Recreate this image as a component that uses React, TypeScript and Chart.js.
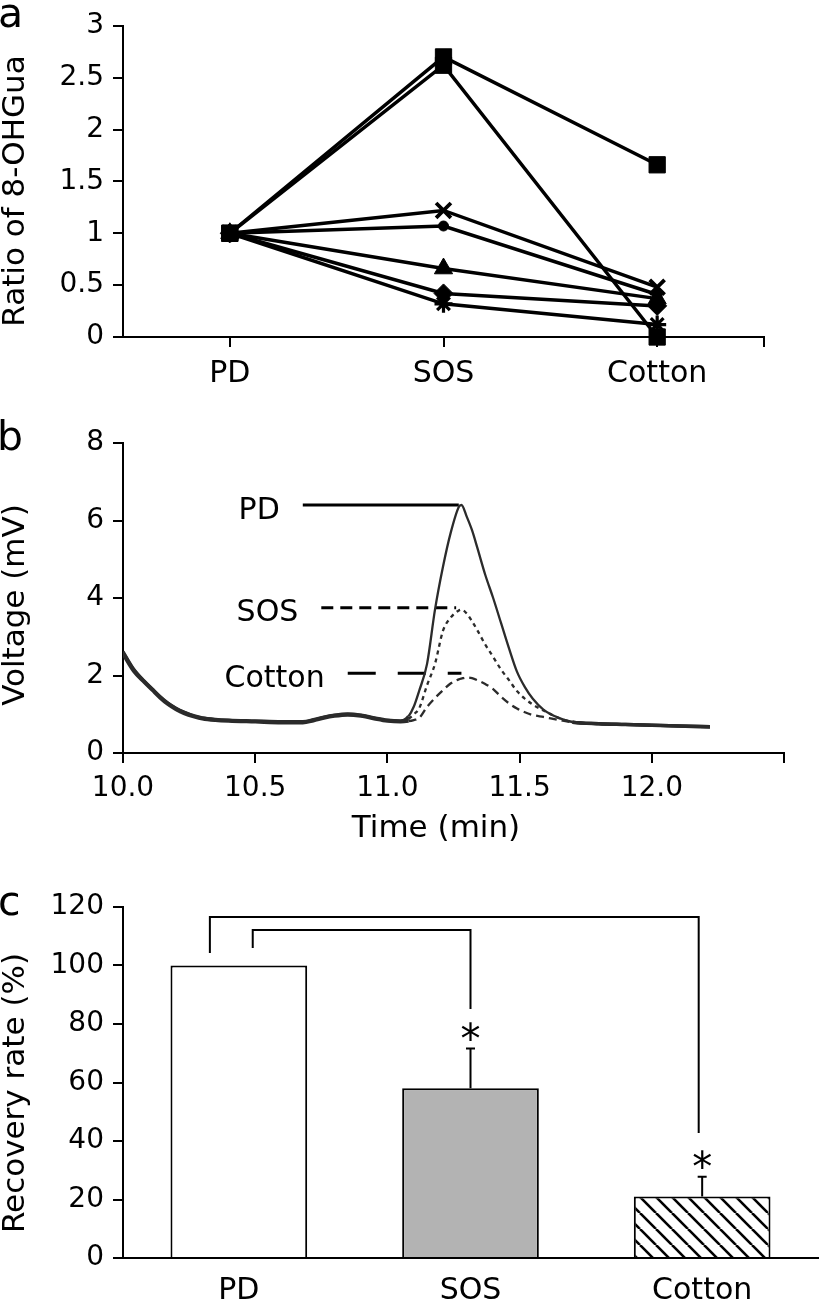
import React, { useEffect, useRef } from 'react';
import { Chart, registerables } from 'chart.js';
Chart.register(...registerables);

const FONT = "'DejaVu Sans', Verdana, sans-serif";

// ---------- Panel a ----------
const catsA = ['PD', 'SOS', 'Cotton'];
const ratioSquare1 = [1, 2.7, 1.66];
const ratioSquare2 = [1, 2.62, 0];
const ratioCross = [1, 1.22, 0.48];
const ratioCircle = [1, 1.07, 0.41];
const ratioTriangle = [1, 0.66, 0.37];
const ratioDiamond = [1, 0.42, 0.3];
const ratioStar = [1, 0.32, 0.12];
const ticksA = [0, 0.5, 1, 1.5, 2, 2.5, 3];

// ---------- Panel b ----------
const timeMin = [
  10.0, 10.04, 10.08, 10.11, 10.14, 10.17, 10.2, 10.23, 10.27, 10.3,
  10.35, 10.4, 10.5, 10.6, 10.68, 10.72, 10.76, 10.8, 10.85, 10.9,
  10.95, 11.0, 11.05, 11.08, 11.1, 11.12, 11.15, 11.18, 11.21, 11.24,
  11.27, 11.28, 11.3, 11.32, 11.34, 11.37, 11.4, 11.43, 11.46, 11.49,
  11.52, 11.55, 11.59, 11.65, 11.7, 11.8, 11.9, 12.0, 12.1, 12.22,
];
const voltPD = [
  2.6, 2.15, 1.85, 1.65, 1.45, 1.28, 1.15, 1.05, 0.95, 0.9,
  0.86, 0.84, 0.82, 0.8, 0.8, 0.85, 0.92, 0.97, 1.0, 0.97,
  0.9, 0.84, 0.82, 0.95, 1.2, 1.6, 2.3, 3.7, 4.8, 5.7,
  6.35, 6.4, 6.1, 5.75, 5.3, 4.6, 4.0, 3.35, 2.7, 2.1,
  1.7, 1.4, 1.12, 0.9, 0.8, 0.76, 0.74, 0.72, 0.7, 0.68,
];
const voltSOS = [
  2.62, 2.17, 1.86, 1.66, 1.46, 1.29, 1.16, 1.06, 0.96, 0.91,
  0.87, 0.85, 0.83, 0.81, 0.81, 0.86, 0.93, 0.98, 1.01, 0.98,
  0.91, 0.85, 0.83, 0.88, 1.0, 1.15, 1.75, 2.3, 3.15, 3.5,
  3.68, 3.7, 3.6, 3.4, 3.17, 2.8, 2.48, 2.15, 1.88, 1.6,
  1.4, 1.25, 1.1, 0.9, 0.8, 0.76, 0.74, 0.72, 0.7, 0.68,
];
const voltCotton = [
  2.55, 2.11, 1.82, 1.62, 1.42, 1.25, 1.12, 1.02, 0.93, 0.88,
  0.84, 0.82, 0.8, 0.78, 0.78, 0.83, 0.9, 0.95, 0.98, 0.95,
  0.88, 0.82, 0.8, 0.82, 0.85, 0.9, 1.19, 1.42, 1.62, 1.8,
  1.9, 1.92, 1.95, 1.93, 1.88, 1.78, 1.65, 1.45, 1.28, 1.15,
  1.05, 0.98, 0.93, 0.85, 0.79, 0.75, 0.73, 0.71, 0.69, 0.67,
];
const peakLabels = ['PD', 'SOS', 'Cotton'];
const peakLevels = [6.4, 3.75, 2.06];
const peakLineStart = [10.68, 10.75, 10.85];
const peakLineEnd = [11.27, 11.26, 11.28];
const timeTicks = [10.0, 10.5, 11.0, 11.5, 12.0, 12.5];
const voltTicks = [0, 2, 4, 6, 8];

// ---------- Panel c ----------
const catsC = ['PD', 'SOS', 'Cotton'];
const recovery = [100, 58, 21];
const recoveryErr = [0, 13.6, 6.8];
const bracketFrom = [-0.125, 0.06];
const bracketTo = [1.985, 1.0];
const bracketTop = [116.6, 112.1];
const bracketLeftEnd = [104.3, 106];
const bracketRightEnd = [42.7, 85.1];
const starIdx = [1, 2];
const starAt = [77.6, 34];
const recTicks = [0, 20, 40, 60, 80, 100, 120];

type TextItem = {
  text: string; x: number; y: number; size: number;
  rotate?: boolean; align?: CanvasTextAlign; baseline?: CanvasTextBaseline;
};

function drawTexts(ctx: CanvasRenderingContext2D, items: TextItem[]) {
  for (const it of items) {
    ctx.save();
    ctx.font = `${it.size}px ${FONT}`;
    ctx.fillStyle = '#000';
    ctx.textAlign = it.align ?? 'center';
    ctx.textBaseline = it.baseline ?? 'middle';
    ctx.translate(it.x, it.y);
    if (it.rotate) ctx.rotate(-Math.PI / 2);
    ctx.fillText(it.text, 0, 0);
    ctx.restore();
  }
}

const axisGrid = { drawOnChartArea: false, drawTicks: true, tickLength: 10, color: '#000', lineWidth: 2 };
const axisBorder = { display: true, color: '#000', width: 2 };
const tickFont = (size: number) => ({ family: FONT, size });

function makeA(canvas: HTMLCanvasElement) {
  const mk = (vals: number[], style: any, radius: number, bw: number) => ({
    data: vals.map((y, i) => ({ x: i, y })),
    borderColor: '#000', backgroundColor: '#000', borderWidth: 3.5,
    pointStyle: style, pointRadius: radius, pointBorderWidth: bw,
    pointBackgroundColor: '#000', pointBorderColor: '#000',
    clip: false as any, tension: 0,
  });
  return new Chart(canvas, {
    type: 'line',
    data: {
      datasets: [
        mk(ratioSquare1, 'rect', 11.5, 1),
        mk(ratioSquare2, 'rect', 11.5, 1),
        mk(ratioCross, 'crossRot', 10.5, 3.8),
        mk(ratioCircle, 'circle', 5, 1),
        mk(ratioTriangle, 'triangle', 10.5, 1),
        mk(ratioDiamond, 'rectRot', 9.5, 1),
        mk(ratioStar, 'star', 9, 3.2),
      ],
    },
    options: {
      animation: false, responsive: false, events: [],
      layout: { padding: { top: 19, right: 58, left: 0, bottom: 0 } },
      plugins: { legend: { display: false }, tooltip: { enabled: false } },
      scales: {
        x: {
          type: 'linear', min: -0.5, max: 2.5,
          afterBuildTicks: (s: any) => { s.ticks = [0, 1, 2, 2.5].map((v) => ({ value: v })); },
          afterFit: (s: any) => { s.height = 53; },
          ticks: {
            callback: (v: any) => (Number.isInteger(v) ? catsA[v] : ''),
            font: tickFont(30), color: '#000', padding: 9, autoSkip: false, maxRotation: 0,
          },
          grid: axisGrid, border: axisBorder,
        },
        y: {
          min: 0, max: 3,
          afterBuildTicks: (s: any) => { s.ticks = ticksA.map((v) => ({ value: v })); },
          afterFit: (s: any) => { s.width = 123; },
          ticks: { callback: (v: any) => String(v), font: tickFont(28), color: '#000', padding: 9 },
          grid: axisGrid, border: axisBorder,
        },
      },
    } as any,
    plugins: [{
      id: 'textsA',
      afterDraw(chart: any) {
        drawTexts(chart.ctx, [
          { text: 'a', x: -2, y: 27, size: 41, align: 'left', baseline: 'alphabetic' },
          { text: 'Ratio of 8-OHGua', x: 16, y: 191, size: 31, rotate: true },
        ]);
      },
    }],
  });
}

function makeB(canvas: HTMLCanvasElement) {
  const inPeak = (c: any) => c.p0.parsed.x >= 11.07 && c.p1.parsed.x <= 11.72;
  const trace = (vals: number[], dash: number[]) => ({
    data: timeMin.map((t, i) => ({ x: t, y: vals[i] })),
    borderColor: '#2b2b2b', borderWidth: 3, pointRadius: 0,
    cubicInterpolationMode: 'monotone',
    segment: {
      borderDash: (c: any) => (dash.length && inPeak(c) ? dash : undefined),
      borderWidth: (c: any) => (inPeak(c) ? 2.3 : 3.2),
    },
  });
  const dashes = [[], [12, 7], [28, 22]];
  const labelLines = peakLabels.map((_, i) => ({
    data: [{ x: peakLineStart[i], y: peakLevels[i] }, { x: peakLineEnd[i], y: peakLevels[i] }],
    borderColor: '#000', borderWidth: 3, borderDash: dashes[i], pointRadius: 0,
  }));
  return new Chart(canvas, {
    type: 'line',
    data: {
      datasets: [
        trace(voltPD, []),
        trace(voltSOS, [4, 4]),
        trace(voltCotton, [8, 5]),
        ...labelLines,
      ] as any,
    },
    options: {
      animation: false, responsive: false, events: [],
      layout: { padding: { top: 53, right: 38, left: 0, bottom: 0 } },
      plugins: { legend: { display: false }, tooltip: { enabled: false } },
      scales: {
        x: {
          type: 'linear', min: 10, max: 12.5,
          afterBuildTicks: (s: any) => { s.ticks = timeTicks.map((v) => ({ value: v })); },
          afterFit: (s: any) => { s.height = 92; },
          ticks: {
            callback: (v: any) => (v <= 12.01 ? Number(v).toFixed(1) : ''),
            font: tickFont(28), color: '#000', padding: 9, autoSkip: false, maxRotation: 0,
          },
          grid: axisGrid, border: axisBorder,
        },
        y: {
          min: 0, max: 8,
          afterBuildTicks: (s: any) => { s.ticks = voltTicks.map((v) => ({ value: v })); },
          afterFit: (s: any) => { s.width = 123; },
          ticks: { font: tickFont(28), color: '#000', padding: 9 },
          grid: axisGrid, border: axisBorder,
        },
      },
    } as any,
    plugins: [{
      id: 'textsB',
      afterDraw(chart: any) {
        const xs = chart.scales.x, ys = chart.scales.y;
        const items: TextItem[] = peakLabels.map((lab, i) => ({
          text: lab, x: xs.getPixelForValue(peakLineStart[i]) - 23, y: ys.getPixelForValue(peakLevels[i]) + 6,
          size: 30, align: 'right' as CanvasTextAlign,
        }));
        items.push({ text: 'b', x: -3, y: 60, size: 41, align: 'left', baseline: 'alphabetic' });
        items.push({ text: 'Voltage (mV)', x: 16, y: 215, size: 31, rotate: true });
        items.push({ text: 'Time (min)', x: 436, y: 439, size: 31 });
        drawTexts(chart.ctx, items);
      },
    }],
  });
}

function makeHatch(): CanvasPattern | string {
  const c = document.createElement('canvas');
  c.width = 16; c.height = 16;
  const g = c.getContext('2d');
  if (!g) return '#fff';
  g.fillStyle = '#fff';
  g.fillRect(0, 0, 16, 16);
  g.strokeStyle = '#000';
  g.lineWidth = 2.6;
  for (const x of [0, 16, 32]) {
    g.beginPath();
    g.moveTo(x - 16, 0);
    g.lineTo(x, 16);
    g.stroke();
  }
  const p = g.createPattern(c, 'repeat');
  return p ?? '#fff';
}

function makeC(canvas: HTMLCanvasElement) {
  const hatch = makeHatch();
  return new Chart(canvas, {
    type: 'bar',
    data: {
      labels: catsC,
      datasets: [{
        data: recovery,
        backgroundColor: ['#ffffff', '#b3b3b3', hatch] as any,
        borderColor: '#000', borderWidth: 2,
        categoryPercentage: 1, barPercentage: 0.59,
      }],
    },
    options: {
      animation: false, responsive: false, events: [],
      layout: { padding: { top: 62, right: 4, left: 0, bottom: 0 } },
      plugins: { legend: { display: false }, tooltip: { enabled: false } },
      scales: {
        x: {
          afterFit: (s: any) => { s.height = 43; },
          ticks: { font: tickFont(30), color: '#000', padding: 15, maxRotation: 0 },
          grid: { display: false, drawTicks: false, tickLength: 0 },
          border: axisBorder,
        },
        y: {
          min: 0, max: 120,
          afterBuildTicks: (s: any) => { s.ticks = recTicks.map((v) => ({ value: v })); },
          afterFit: (s: any) => { s.width = 123; },
          ticks: { font: tickFont(28), color: '#000', padding: 9 },
          grid: axisGrid, border: axisBorder,
        },
      },
    } as any,
    plugins: [{
      id: 'extrasC',
      afterDraw(chart: any) {
        const ctx: CanvasRenderingContext2D = chart.ctx;
        const xs = chart.scales.x, ys = chart.scales.y;
        const meta = chart.getDatasetMeta(0);
        ctx.save();
        ctx.strokeStyle = '#000';
        ctx.lineWidth = 2;
        meta.data.forEach((el: any, i: number) => {
          if (!recoveryErr[i]) return;
          const yTop = ys.getPixelForValue(recovery[i] + recoveryErr[i]);
          ctx.beginPath();
          ctx.moveTo(el.x, el.y);
          ctx.lineTo(el.x, yTop);
          ctx.moveTo(el.x - 4.5, yTop);
          ctx.lineTo(el.x + 4.5, yTop);
          ctx.stroke();
        });
        bracketFrom.forEach((f, k) => {
          const x1 = xs.getPixelForValue(f);
          const x2 = xs.getPixelForValue(bracketTo[k]);
          ctx.beginPath();
          ctx.moveTo(x1, ys.getPixelForValue(bracketLeftEnd[k]));
          ctx.lineTo(x1, ys.getPixelForValue(bracketTop[k]));
          ctx.lineTo(x2, ys.getPixelForValue(bracketTop[k]));
          ctx.lineTo(x2, ys.getPixelForValue(bracketRightEnd[k]));
          ctx.stroke();
        });
        ctx.restore();
        const items: TextItem[] = starIdx.map((ci, k) => ({
          text: '*', x: xs.getPixelForValue(ci), y: ys.getPixelForValue(starAt[k]) + 22,
          size: 40, baseline: 'alphabetic' as CanvasTextBaseline,
        }));
        items.push({ text: 'c', x: -2, y: 70, size: 41, align: 'left', baseline: 'alphabetic' });
        items.push({ text: 'Recovery rate (%)', x: 16, y: 248, size: 31, rotate: true });
        drawTexts(ctx, items);
      },
    }],
  });
}

export default function App() {
  const refA = useRef<HTMLCanvasElement>(null);
  const refB = useRef<HTMLCanvasElement>(null);
  const refC = useRef<HTMLCanvasElement>(null);
  useEffect(() => {
    const charts = [makeA(refA.current!), makeB(refB.current!), makeC(refC.current!)];
    return () => charts.forEach((c) => c.destroy());
  }, []);
  return (
    <div style={{ position: 'absolute', left: 0, top: 0, width: 822, height: 1301, background: '#fff' }}>
      <canvas ref={refA} width={822} height={390} style={{ position: 'absolute', left: 0, top: 0 }} />
      <canvas ref={refB} width={822} height={455} style={{ position: 'absolute', left: 0, top: 390 }} />
      <canvas ref={refC} width={822} height={456} style={{ position: 'absolute', left: 0, top: 845 }} />
    </div>
  );
}
